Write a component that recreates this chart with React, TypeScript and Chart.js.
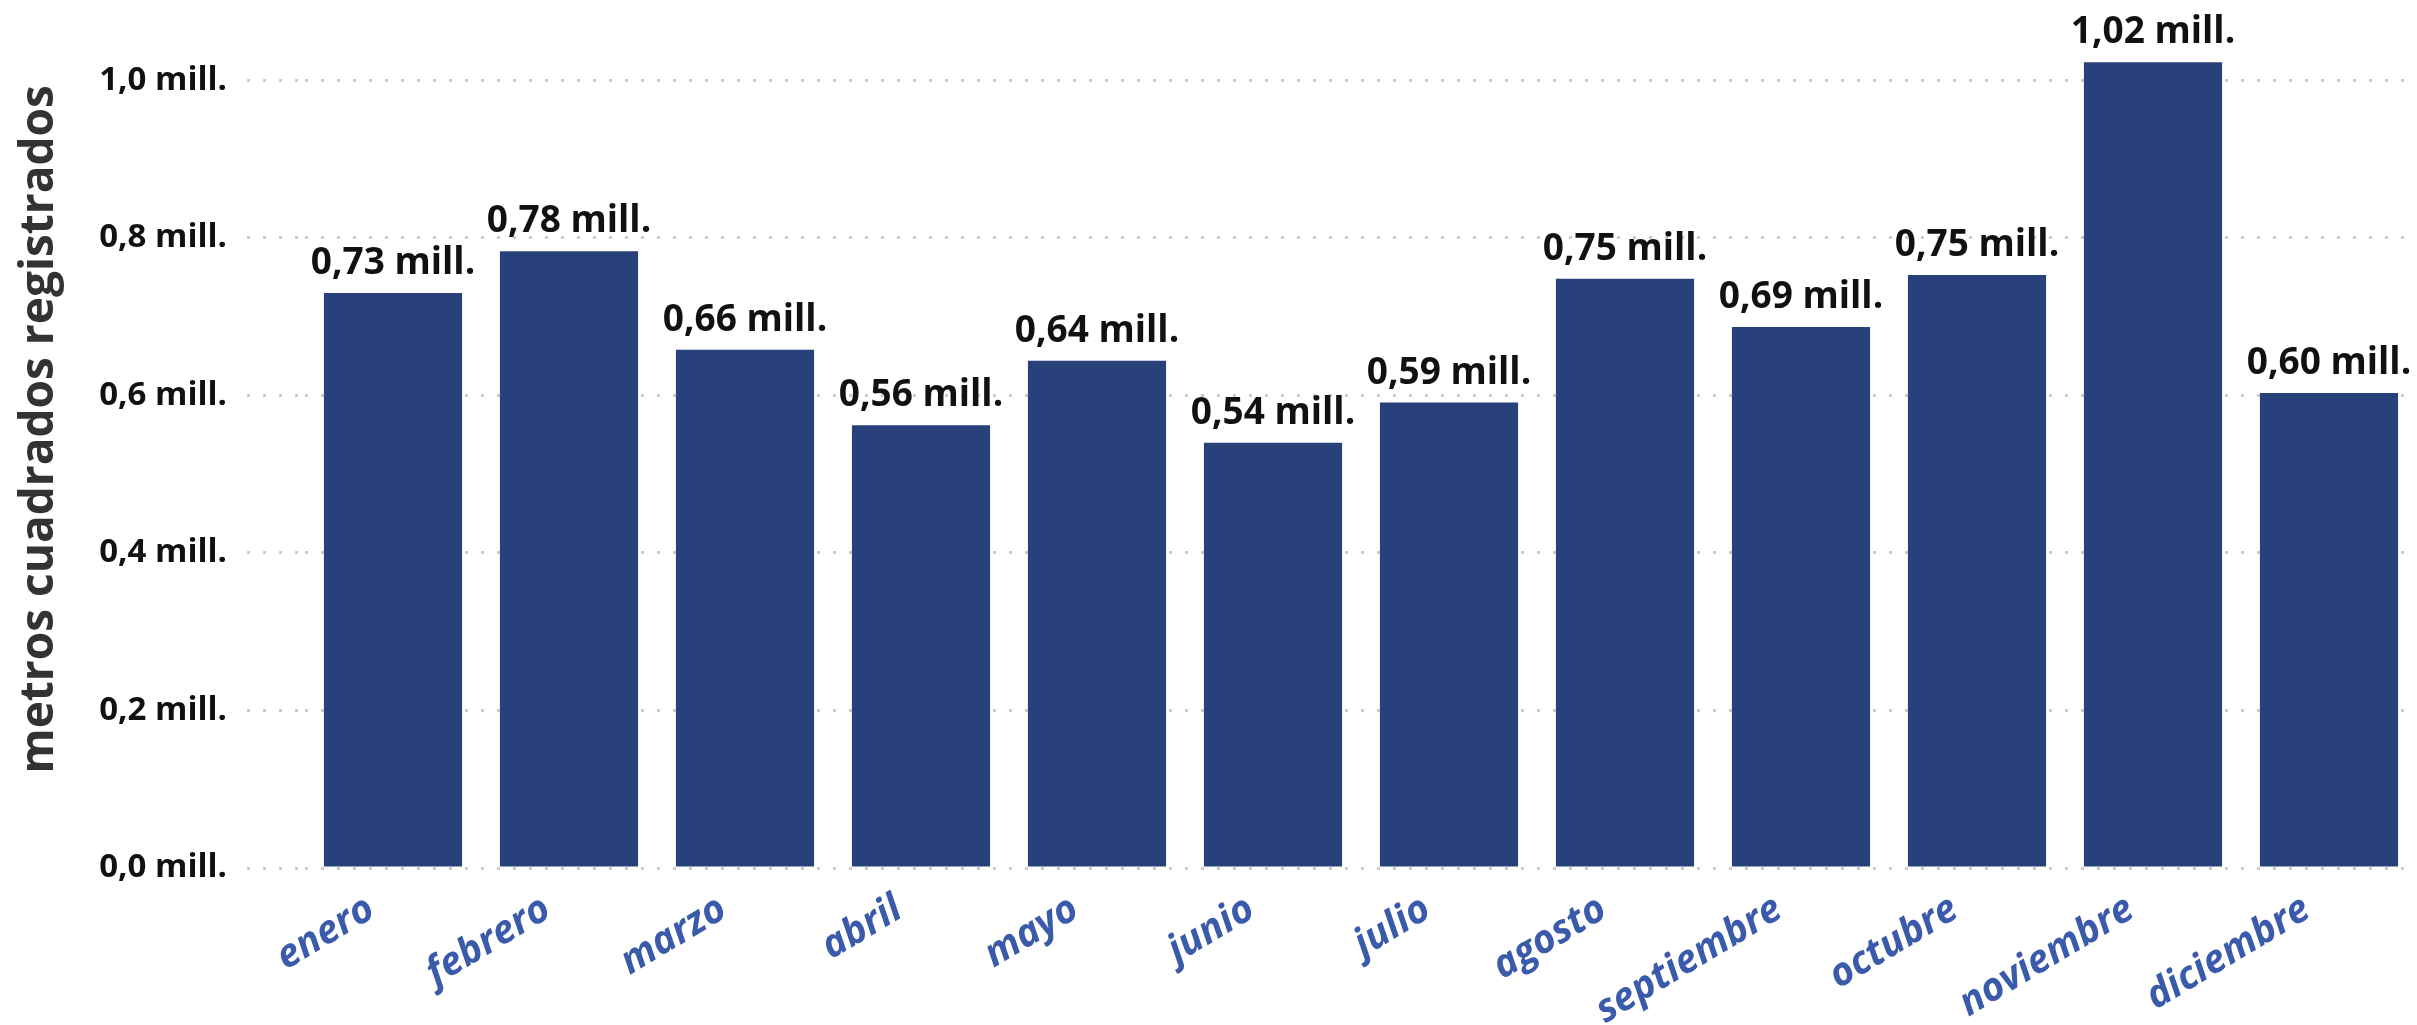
import React, { useEffect, useRef } from "react";
import { Chart, registerables } from "chart.js";

Chart.register(...registerables);

const months = [
  "enero", "febrero", "marzo", "abril", "mayo", "junio",
  "julio", "agosto", "septiembre", "octubre", "noviembre", "diciembre",
];
const areaMillions = [0.73, 0.783, 0.658, 0.562, 0.644, 0.54, 0.591, 0.748, 0.687, 0.753, 1.023, 0.603];
const yTickValues = [0, 0.2, 0.4, 0.6, 0.8, 1.0];
const yTitle = "metros cuadrados registrados";

const W = 2417;
const H = 1025;
const FONT = "'Open Sans', 'Noto Sans', sans-serif";

const fmt = (v: number, d: number) => v.toFixed(d).replace(".", ",") + " mill.";

const valueLabels = {
  id: "valueLabels",
  afterDatasetsDraw(chart: any) {
    const ctx = chart.ctx;
    const meta = chart.getDatasetMeta(0);
    ctx.save();
    ctx.font = `700 37px ${FONT}`;
    ctx.fillStyle = "#111111";
    ctx.textAlign = "center";
    ctx.textBaseline = "alphabetic";
    meta.data.forEach((bar: any, i: number) => {
      const v = chart.data.datasets[0].data[i] as number;
      ctx.fillText(fmt(v, 2), bar.x, bar.y - 19);
    });
    ctx.restore();
  },
};

const axisTitle = {
  id: "axisTitle",
  afterDraw(chart: any) {
    const ctx = chart.ctx;
    const yScale = chart.scales.y;
    const cy = yScale.getPixelForValue(0.557);
    ctx.save();
    ctx.translate(53, cy);
    ctx.rotate(-Math.PI / 2);
    ctx.font = `700 46px ${FONT}`;
    ctx.fillStyle = "#333333";
    ctx.textAlign = "center";
    ctx.textBaseline = "alphabetic";
    ctx.fillText(yTitle, 0, 0);
    ctx.restore();
  },
};

export default function App() {
  const ref = useRef<HTMLCanvasElement | null>(null);

  useEffect(() => {
    document.body.style.margin = "0";
    const canvas = ref.current;
    if (!canvas) return;
    const chart = new Chart(canvas, {
      type: "bar",
      data: {
        labels: months,
        datasets: [
          {
            data: areaMillions,
            backgroundColor: "#28417B",
            borderWidth: 0,
            barPercentage: 0.785,
            categoryPercentage: 1,
          },
        ],
      },
      options: {
        animation: false,
        responsive: false,
        devicePixelRatio: 1,
        layout: { padding: { top: 41, right: 0, bottom: 0, left: 0 } },
        plugins: {
          legend: { display: false },
          tooltip: { enabled: false },
        },
        scales: {
          x: {
            afterFit: (scale: any) => {
              scale.height = 157;
            },
            grid: { display: false },
            border: { display: false },
            ticks: {
              color: "#3A5BAA",
              font: { family: FONT, size: 39, weight: "bold", style: "italic" },
              maxRotation: 31,
              minRotation: 31,
              padding: 10,
              labelOffset: -22,
              autoSkip: false,
            },
          },
          y: {
            min: 0,
            max: 1.05,
            afterBuildTicks: (scale: any) => {
              scale.ticks = yTickValues.map((v) => ({ value: v }));
            },
            afterFit: (scale: any) => {
              scale.width = 305;
            },
            border: { display: false, dash: [3, 13] },
            grid: {
              color: "#cccccc",
              lineWidth: 3,
              drawTicks: true,
              tickLength: 58,
              tickColor: "#cccccc",
              tickWidth: 3,
              tickBorderDash: [3, 13],
            },
            ticks: {
              color: "#111111",
              padding: 20,
              font: { family: FONT, size: 33, weight: "bold" },
              callback: (v: any) => fmt(Number(v), 1),
            },
            title: { display: false },
          },
        },
      },
      plugins: [valueLabels, axisTitle],
    });
    return () => chart.destroy();
  }, []);

  return (
    <div style={{ position: "fixed", left: 0, top: 0, width: W, height: H, background: "#fff" }}>
      <canvas ref={ref} width={W} height={H} style={{ width: W, height: H, display: "block" }} />
    </div>
  );
}
